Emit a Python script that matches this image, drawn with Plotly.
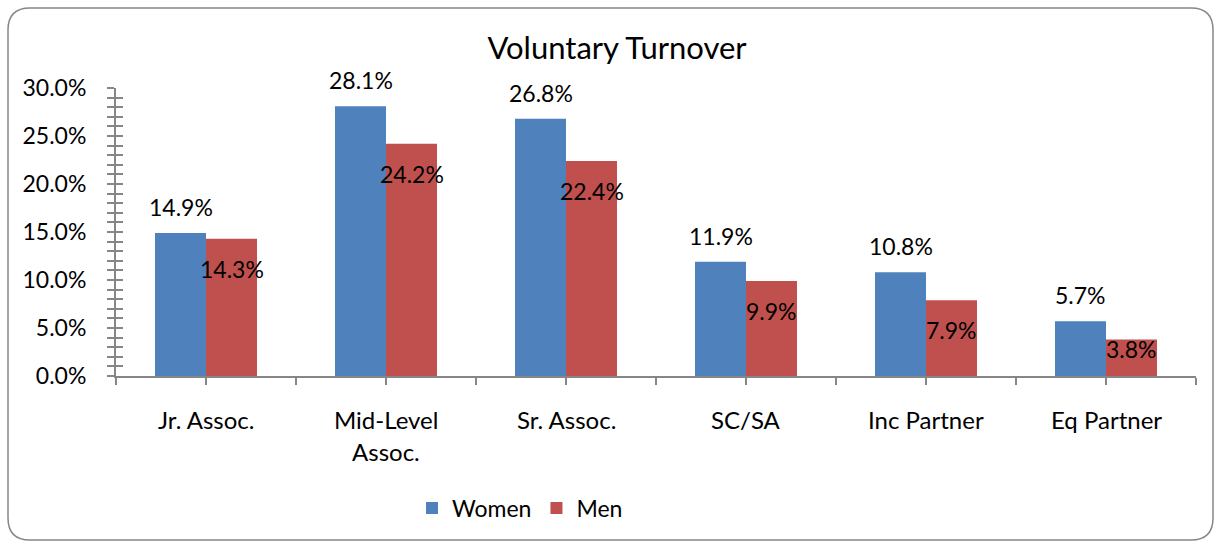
import plotly.graph_objects as go

categories = ["Jr. Assoc.", "Mid-Level<br>Assoc.", "Sr. Assoc.", "SC/SA", "Inc Partner", "Eq Partner"]
women = [14.9, 28.1, 26.8, 11.9, 10.8, 5.7]
men = [14.3, 24.2, 22.4, 9.9, 7.9, 3.8]
y_ticks = [0, 5, 10, 15, 20, 25, 30]

BLUE = "#4F81BD"
RED = "#C0504D"
AXIS = "#868686"
FONT = "Lato"
FS = 23

W, H = 1221, 543
L, R, T, B = 116, 25, 88, 167
pw, ph = W - L - R, H - T - B
px_per_unit = ph / 30.0

xs = list(range(len(categories)))
bw = 51 / 180

fig = go.Figure()
fig.add_trace(go.Bar(x=xs, y=women, name="Women", marker=dict(color=BLUE, line=dict(width=0)), width=bw, offset=-bw))
fig.add_trace(go.Bar(x=xs, y=men, name="Men", marker=dict(color=RED, line=dict(width=0)), width=bw, offset=0))

ann = []
for i, v in enumerate(women):
    ann.append(dict(x=i - bw / 2, y=v, xref="x", yref="y", text=f"{v:.1f}%", showarrow=False,
                    yanchor="middle", yshift=26, font=dict(size=FS, color="black", family=FONT)))
for i, v in enumerate(men):
    off = min(30, v * px_per_unit - 27)
    ann.append(dict(x=i + bw / 2, y=v, xref="x", yref="y", text=f"{v:.1f}%", showarrow=False,
                    yanchor="middle", yshift=-off, font=dict(size=FS, color="black", family=FONT)))
# category labels
for i, c in enumerate(categories):
    for k, line in enumerate(c.split("<br>")):
        ann.append(dict(x=i, y=0, xref="x", yref="y", text=line, showarrow=False,
                        yanchor="middle", yshift=-43 - 32 * k, font=dict(size=24, color="black", family=FONT)))

# rounded border
x0, x1 = (8 - L) / pw, (1213 - L) / pw
y1, y0 = (H - B - 8) / ph, (H - B - 540) / ph
rx, ry = 22 / pw, 22 / ph
path = (f"M {x0+rx},{y1} L {x1-rx},{y1} Q {x1},{y1} {x1},{y1-ry} L {x1},{y0+ry} Q {x1},{y0} {x1-rx},{y0} "
        f"L {x0+rx},{y0} Q {x0},{y0} {x0},{y0+ry} L {x0},{y1-ry} Q {x0},{y1} {x0+rx},{y1} Z")

fig.update_layout(
    width=W, height=H,
    margin=dict(l=L, r=R, t=T, b=B),
    paper_bgcolor="white", plot_bgcolor="white",
    font=dict(family=FONT, size=FS, color="black"),
    title=dict(text="Voluntary Turnover", x=617 / W, xanchor="center",
               y=1 - 48 / H, yanchor="middle", font=dict(size=31, family=FONT, color="black")),
    barmode="overlay",
    showlegend=True,
    legend=dict(orientation="h", x=(520 - L) / pw, xanchor="center", y=(H - B - 508) / ph, yanchor="middle",
                font=dict(size=FS, family=FONT), itemwidth=30, traceorder="normal"),
    xaxis=dict(range=[-0.5, len(categories) - 0.5], tickvals=[v / 2 - 0.5 for v in range(2 * len(categories) + 1)],
               ticktext=[""] * (2 * len(categories) + 1), ticks="outside", ticklen=7, tickcolor=AXIS, tickwidth=1.5,
               showline=True, linecolor=AXIS, linewidth=2, showgrid=False, zeroline=False, fixedrange=True),
    yaxis=dict(range=[0, 30], tickvals=y_ticks, ticktext=[f"{v:.1f}%" for v in y_ticks], ticks="outside", ticklen=7,
               tickcolor=AXIS, tickwidth=1.5, showline=True, linecolor=AXIS, linewidth=2, showgrid=False,
               zeroline=False, ticklabelstandoff=16, tickfont=dict(size=FS),
               minor=dict(dtick=1, ticks="outside", ticklen=7, tickcolor=AXIS, tickwidth=1.5)),
    yaxis2=dict(range=[0, 30], overlaying="y", side="left", showticklabels=False, ticks="inside", ticklen=7,
                tickvals=y_ticks, tickcolor=AXIS, tickwidth=1.5, showline=False, showgrid=False, zeroline=False,
                minor=dict(dtick=1, ticks="inside", ticklen=7, tickcolor=AXIS, tickwidth=1.5)),
    annotations=ann,
    shapes=[dict(type="path", path=path, xref="paper", yref="paper", line=dict(color=AXIS, width=1.5),
                 fillcolor="rgba(0,0,0,0)", layer="below")],
)
fig.add_trace(go.Scatter(x=[None], y=[None], yaxis="y2", showlegend=False, hoverinfo="skip"))

fig.write_html("out.html", config={"displayModeBar": False},
               post_script="document.body.style.margin='0';document.body.style.overflow='hidden';")
